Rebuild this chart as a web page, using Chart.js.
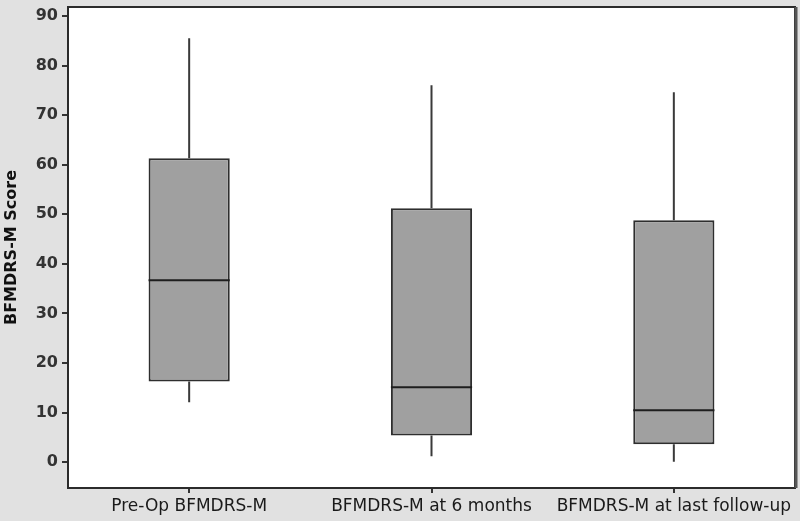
<!DOCTYPE html>
<html>
<head>
<meta charset="utf-8">
<script src="https://cdn.jsdelivr.net/npm/chart.js@4.4.1/dist/chart.umd.min.js"></script>
<style>
  html, body { margin: 0; padding: 0; background: #e1e1e1; }
  #wrap { width: 800px; height: 521px; }
</style>
</head>
<body>
<div id="wrap"><canvas id="boxChart" width="800" height="521"></canvas></div>
<script>
// Box plot data
const categories = ['Pre-Op BFMDRS-M', 'BFMDRS-M at 6 months', 'BFMDRS-M at last follow-up'];
const whiskerLow = [12.1, 1.2, 0.1];
const q1 = [16.3, 5.4, 3.6];
const median = [36.7, 15.1, 10.5];
const q3 = [61.3, 51.2, 48.8];
const whiskerHigh = [85.5, 76.0, 74.6];
const yTicks = [0, 10, 20, 30, 40, 50, 60, 70, 80, 90];

const boxes = categories.map((c, i) => [q1[i], q3[i]]);

// plot background + frame
const frame = {
    id: 'frame',
    beforeDatasetsDraw(chart) {
        const a = chart.chartArea, ctx = chart.ctx;
        ctx.save();
        ctx.fillStyle = '#ffffff';
        ctx.fillRect(a.left, a.top, a.right - a.left, a.bottom - a.top);
        ctx.restore();
    },
    afterDraw(chart) {
        const a = chart.ctx, c = chart.chartArea;
        a.save();
        a.strokeStyle = '#2b2b2b';
        a.lineWidth = 2;
        a.strokeRect(c.left, c.top, c.right - c.left, c.bottom - c.top);
        a.lineWidth = 3;
        a.strokeStyle = '#555';
        a.beginPath();
        a.moveTo(c.right + 1, c.top);
        a.lineTo(c.right + 1, c.bottom);
        a.stroke();
        a.restore();
    }
};

// whiskers and median lines, placed with the chart's scales
const boxParts = {
    id: 'boxParts',
    afterDatasetsDraw(chart) {
        const ctx = chart.ctx, x = chart.scales.x, y = chart.scales.y;
        const meta = chart.getDatasetMeta(0);
        ctx.save();
        categories.forEach((c, i) => {
            const bar = meta.data[i];
            const cx = x.getPixelForValue(i);
            const half = bar.width / 2;
            ctx.strokeStyle = '#3a3a3a';
            ctx.lineWidth = 2;
            ctx.beginPath();
            ctx.moveTo(cx, y.getPixelForValue(q3[i]));
            ctx.lineTo(cx, y.getPixelForValue(whiskerHigh[i]));
            ctx.moveTo(cx, y.getPixelForValue(q1[i]));
            ctx.lineTo(cx, y.getPixelForValue(whiskerLow[i]));
            ctx.stroke();
            ctx.strokeStyle = '#1e1e1e';
            ctx.beginPath();
            const my = y.getPixelForValue(median[i]);
            ctx.moveTo(cx - half, my);
            ctx.lineTo(cx + half, my);
            ctx.stroke();
        });
        ctx.restore();
    }
};

new Chart(document.getElementById('boxChart').getContext('2d'), {
    type: 'bar',
    data: {
        labels: categories,
        datasets: [{
            label: 'BFMDRS-M Score',
            data: boxes,
            backgroundColor: '#a0a0a0',
            borderColor: '#2e2e2e',
            borderWidth: 2,
            borderSkipped: false,
            barPercentage: 0.335,
            categoryPercentage: 1.0
        }]
    },
    options: {
        responsive: false,
        animation: false,
        layout: { padding: { top: 7, right: 5, left: 2, bottom: 0 } },
        plugins: {
            legend: { display: false },
            tooltip: { enabled: false }
        },
        scales: {
            x: {
                grid: { display: true, offset: false, drawOnChartArea: false, tickLength: 5, color: '#333', lineWidth: 2 },
                border: { display: false },
                ticks: {
                    color: '#1a1a1a',
                    padding: 3,
                    font: { family: 'DejaVu Sans', size: 17 }
                },
                afterFit(s) { s.height = 33; s.paddingLeft = 0; s.paddingRight = 0; }
            },
            y: {
                min: -5.2,
                max: 91.8,
                afterBuildTicks(s) { s.ticks = yTicks.map(v => ({ value: v })); },
                grid: { display: true, drawOnChartArea: false, tickLength: 6, color: '#333', lineWidth: 2 },
                border: { display: false },
                ticks: {
                    color: '#333',
                    padding: 4,
                    font: { family: 'DejaVu Sans', size: 16, weight: 'bold' }
                },
                title: {
                    display: true,
                    text: 'BFMDRS-M Score',
                    color: '#111',
                    padding: { top: 0, bottom: 2 },
                    font: { family: 'DejaVu Sans', size: 16, weight: 'bold' }
                },
                afterFit(s) { s.width = 66; s.paddingTop = 0; s.paddingBottom = 0; }
            }
        }
    },
    plugins: [frame, boxParts]
});
</script>
</body>
</html>
